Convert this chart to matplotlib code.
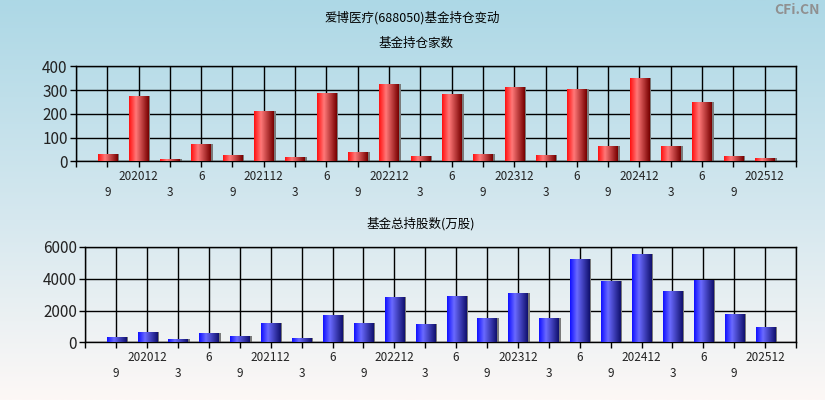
import numpy as np
import matplotlib.pyplot as plt
from matplotlib.colors import LinearSegmentedColormap
from matplotlib import transforms

plt.rcParams['font.family'] = ['Noto Sans CJK SC', 'DejaVu Sans']

periods = ["202009", "202012", "202103", "202106", "202109", "202112",
           "202203", "202206", "202209", "202212", "202303", "202306",
           "202309", "202312", "202403", "202406", "202409", "202412",
           "202503", "202506", "202509", "202512"]
fund_count = [31, 275, 10, 73, 27, 212, 18, 288, 39, 326, 22,
              284, 31, 313, 27, 305, 65, 351, 65, 250, 22, 14]
fund_shares = [336, 650, 210, 587, 399, 1217, 273, 1720, 1217, 2853, 1154,
               2916, 1531, 3105, 1531, 5245, 3860, 5559, 3231, 3944, 1783, 965]

red_cmap = LinearSegmentedColormap.from_list(
    "redbar", [(0, "#ff1010"), (0.35, "#ff7878"), (1, "#780000")])
blue_cmap = LinearSegmentedColormap.from_list(
    "bluebar", [(0, "#1010ff"), (0.35, "#6a6aff"), (1, "#10106e")])


def tick_text(p):
    # December shows the full period, other quarters just the month
    if p.endswith("12"):
        return p
    return str(int(p[4:]))


def draw_panel(ax, values, cmap, ymax, ystep, title):
    n = len(values)
    x = np.arange(n)
    w = 0.62
    ax.set_facecolor("none")
    # shadow
    ax.bar(x + 0.07, values, width=w, color="#7a7a7a", zorder=2)
    bars = ax.bar(x, values, width=w, color="none", zorder=3)
    grad = np.linspace(0, 1, 64).reshape(1, -1)
    for b in bars:
        im = ax.imshow(grad, cmap=cmap, aspect="auto", zorder=3,
                       extent=[b.get_x(), b.get_x() + b.get_width(), 0, b.get_height()])
        im.set_clip_path(b)

    ax.set_xlim(-1, n)
    ax.set_ylim(0, ymax)
    ax.set_xticks(np.arange(-1, n + 1))
    ax.set_xticklabels([])
    ax.set_yticks(np.arange(0, ymax + 1, ystep))
    ax.tick_params(axis="y", labelsize=11, length=4, width=1, colors="black",
                   labelcolor="#222222", pad=2)
    ax.tick_params(axis="x", length=4, width=1, colors="black")
    ax.grid(True, color="black", linewidth=1, zorder=1)
    ax.set_axisbelow(True)
    for s in ax.spines.values():
        s.set_color("black")
        s.set_linewidth(1)

    trans = transforms.blended_transform_factory(ax.transData, ax.transAxes)
    for i, p in enumerate(periods):
        ypos = -0.16 if i % 2 == 1 else -0.33
        ax.text(i, ypos, tick_text(p), transform=trans, ha="center", va="center",
                fontsize=8.5, color="#222222")
    ax.text(0.4725, 1.245, title, transform=ax.transAxes, ha="center", va="center",
            fontsize=9, color="black")


fig = plt.figure(figsize=(8.25, 4), dpi=100)

bg = fig.add_axes([0, 0, 1, 1], zorder=-10)
bg_grad = np.linspace(0, 1, 256).reshape(-1, 1)
bg_cmap = LinearSegmentedColormap.from_list(
    "bg", [(0, "#add8e6"), (0.55, "#d6e8ef"), (1, "#fdf8f6")])
bg.imshow(bg_grad, cmap=bg_cmap, aspect="auto", extent=[0, 1, 0, 1])
bg.set_axis_off()

ax1 = fig.add_axes([0.0921, 0.5968, 0.8727, 0.2375])
draw_panel(ax1, fund_count, red_cmap, 400, 100, "基金持仓家数")

ax2 = fig.add_axes([0.1034, 0.1443, 0.8615, 0.2383])
draw_panel(ax2, fund_shares, blue_cmap, 6000, 2000, "基金总持股数(万股)")

fig.text(0.5, 0.955, "爱博医疗(688050)基金持仓变动", ha="center", va="center",
         fontsize=9, color="black")
fig.text(0.994, 0.975, "CFi.CN", ha="right", va="center", fontsize=10,
         color="#909090", fontweight="bold")

fig.savefig("out.png", dpi=100)
